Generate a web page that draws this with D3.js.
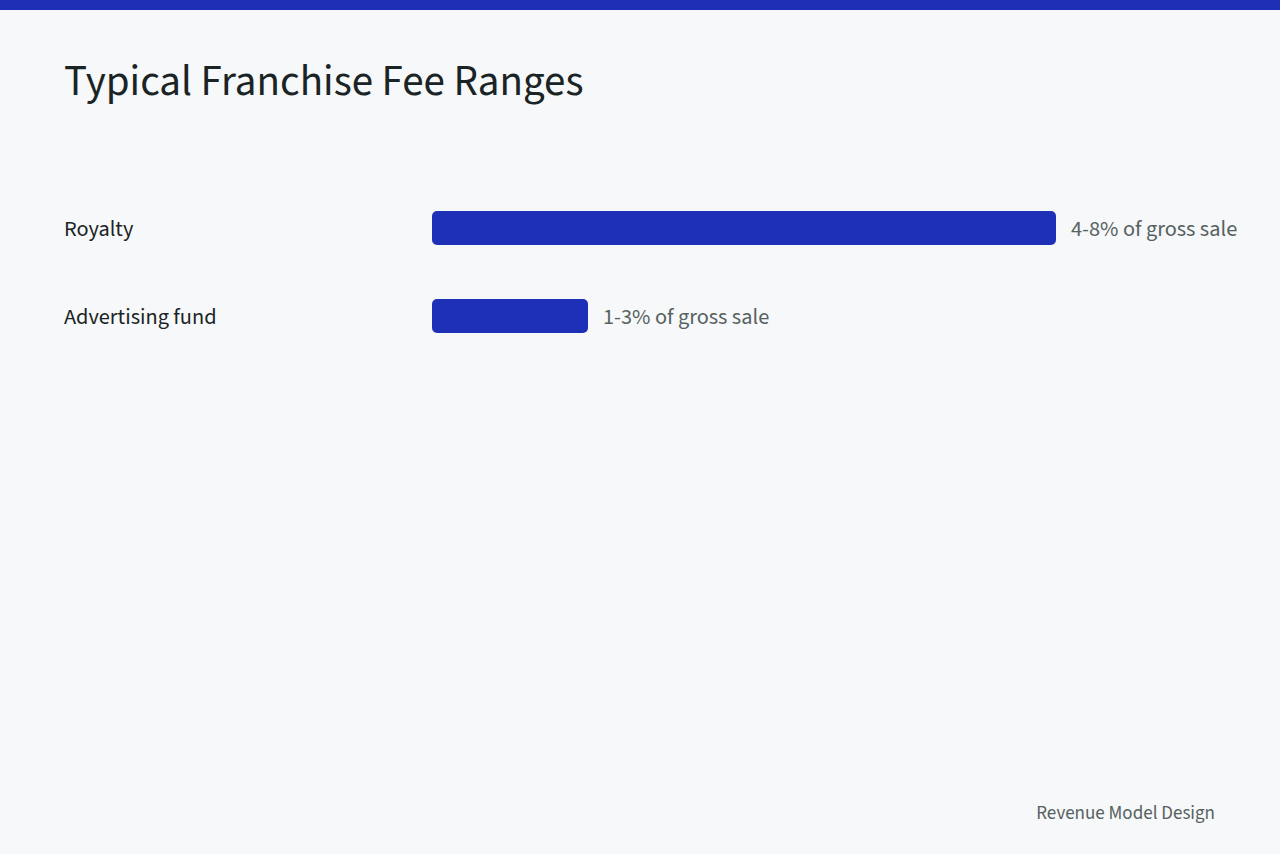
<!DOCTYPE html>
<html>
<head>
<meta charset="utf-8">
<script src="https://cdn.jsdelivr.net/npm/d3@7"></script>
<style>
  html, body { margin: 0; padding: 0; background: #f6f8fa; }
  svg { display: block; font-family: "Source Sans Pro", "Source Sans 3", Lato, sans-serif; }
</style>
</head>
<body>
<div id="chart"></div>
<script>
var width = 1280,
    height = 854;

// fee categories and their lower-bound percentages
var categories = ["Royalty", "Advertising fund"];
var values = [4, 1];
var valueLabels = ["4-8% of gross sale", "1-3% of gross sale"];

var data = categories.map(function(c, i) {
  return { name: c, value: values[i], label: valueLabels[i] };
});

var svg = d3.select("#chart").append("svg")
  .attr("width", width)
  .attr("height", height);

svg.append("rect")
  .attr("width", width)
  .attr("height", height)
  .attr("fill", "#f6f8fa");

// top accent strip
svg.append("rect")
  .attr("width", width)
  .attr("height", 10)
  .attr("fill", "#1f2fb6");

svg.append("text")
  .attr("x", 64)
  .attr("y", 95)
  .attr("font-size", 43)
  .attr("fill", "#1b2424")
  .text("Typical Franchise Fee Ranges");

var x = d3.scaleLinear()
  .domain([0, d3.max(values)])
  .range([432, 1056]);

var y = d3.scaleBand()
  .domain(categories)
  .range([211, 333])
  .paddingInner(54 / 88)
  .paddingOuter(0);

var rows = svg.selectAll(".row")
  .data(data)
  .enter().append("g")
  .attr("class", "row");

rows.append("rect")
  .attr("x", x(0))
  .attr("y", function(d) { return y(d.name); })
  .attr("width", function(d) { return x(d.value) - x(0); })
  .attr("height", y.bandwidth())
  .attr("rx", 5)
  .attr("fill", "#1e30b8");

rows.append("text")
  .attr("x", 64)
  .attr("y", function(d) { return y(d.name) + y.bandwidth() / 2; })
  .attr("dy", "0.35em")
  .attr("font-size", 22.3)
  .attr("fill", "#1b2424")
  .text(function(d) { return d.name; });

rows.append("text")
  .attr("x", function(d) { return x(d.value) + 15; })
  .attr("y", function(d) { return y(d.name) + y.bandwidth() / 2; })
  .attr("dy", "0.35em")
  .attr("font-size", 22.3)
  .attr("fill", "#56625f")
  .text(function(d) { return d.label; });

svg.append("text")
  .attr("x", 1215)
  .attr("y", 819)
  .attr("text-anchor", "end")
  .attr("font-size", 19)
  .attr("fill", "#56625f")
  .text("Revenue Model Design");
</script>
</body>
</html>
